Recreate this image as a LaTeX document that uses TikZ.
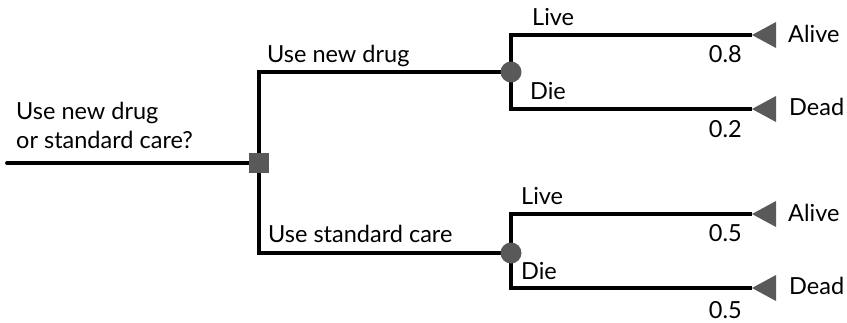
\documentclass[tikz,border=0pt]{standalone}
\usepackage{fontspec}
\setmainfont{Lato}
\usetikzlibrary{backgrounds}
\definecolor{nodegray}{HTML}{595959}
\tikzset{
  edge/.style={line width=3.8pt, black},
  decbox/.style={rectangle, fill=nodegray, minimum size=20pt, inner sep=0pt},
  chancenode/.style={circle, fill=nodegray, minimum size=21pt, inner sep=0pt},
  termfill/.style={fill=nodegray},
  lbl/.style={anchor=base west, inner sep=0pt, font=\fontsize{23.5}{28}\selectfont},
  prob/.style={anchor=base east, inner sep=0pt, font=\fontsize{23.5}{28}\selectfont},
}
\begin{document}
\begin{tikzpicture}[x=1pt, y=-1pt]
\useasboundingbox (0,0) rectangle (847,322);
% nodes
\node[decbox] (d) at (259,163) {};
\node[chancenode] (c1) at (511,72) {};
\node[chancenode] (c2) at (511,253) {};
\coordinate (start) at (7,163);
\coordinate (t1) at (752,35);
\coordinate (t2) at (752,109);
\coordinate (t3) at (752,214);
\coordinate (t4) at (752,288);
\foreach \t in {t1,t2,t3,t4}{
  \fill[termfill] (\t) -- ++(24,-13) -- ++(0,26) -- cycle;
}
% connectors
\begin{scope}[on background layer]
\draw[edge, line cap=round] (start) -- (d.center);
\draw[edge] (d.center) |- (c1.center);
\draw[edge] (d.center) |- (c2.center);
\draw[edge] (c1.center) |- (t1);
\draw[edge] (c1.center) |- (t2);
\draw[edge] (c2.center) |- (t3);
\draw[edge] (c2.center) |- (t4);
\end{scope}
% labels
\node[lbl] (q1) at (16,119) {Use new drug};
\node[lbl] (q2) at (16,148) {or standard care?};
\node[lbl] (a1) at (267,62) {Use new drug};
\node[lbl] (a2) at (268,242) {Use standard care};
\node[lbl] (l1) at (532,25) {Live};
\node[lbl] (d1) at (530,99) {Die};
\node[lbl] (l2) at (521,204) {Live};
\node[lbl] (d2) at (521,279) {Die};
\node[prob] (p1) at (742,62) {0.8};
\node[prob] (p2) at (742,137) {0.2};
\node[prob] (p3) at (742,241) {0.5};
\node[prob] (p4) at (742,318) {0.5};
\node[lbl] (o1) at (788,42) {Alive};
\node[lbl] (o2) at (789,115) {Dead};
\node[lbl] (o3) at (788,221) {Alive};
\node[lbl] (o4) at (789,294) {Dead};
\end{tikzpicture}
\end{document}
